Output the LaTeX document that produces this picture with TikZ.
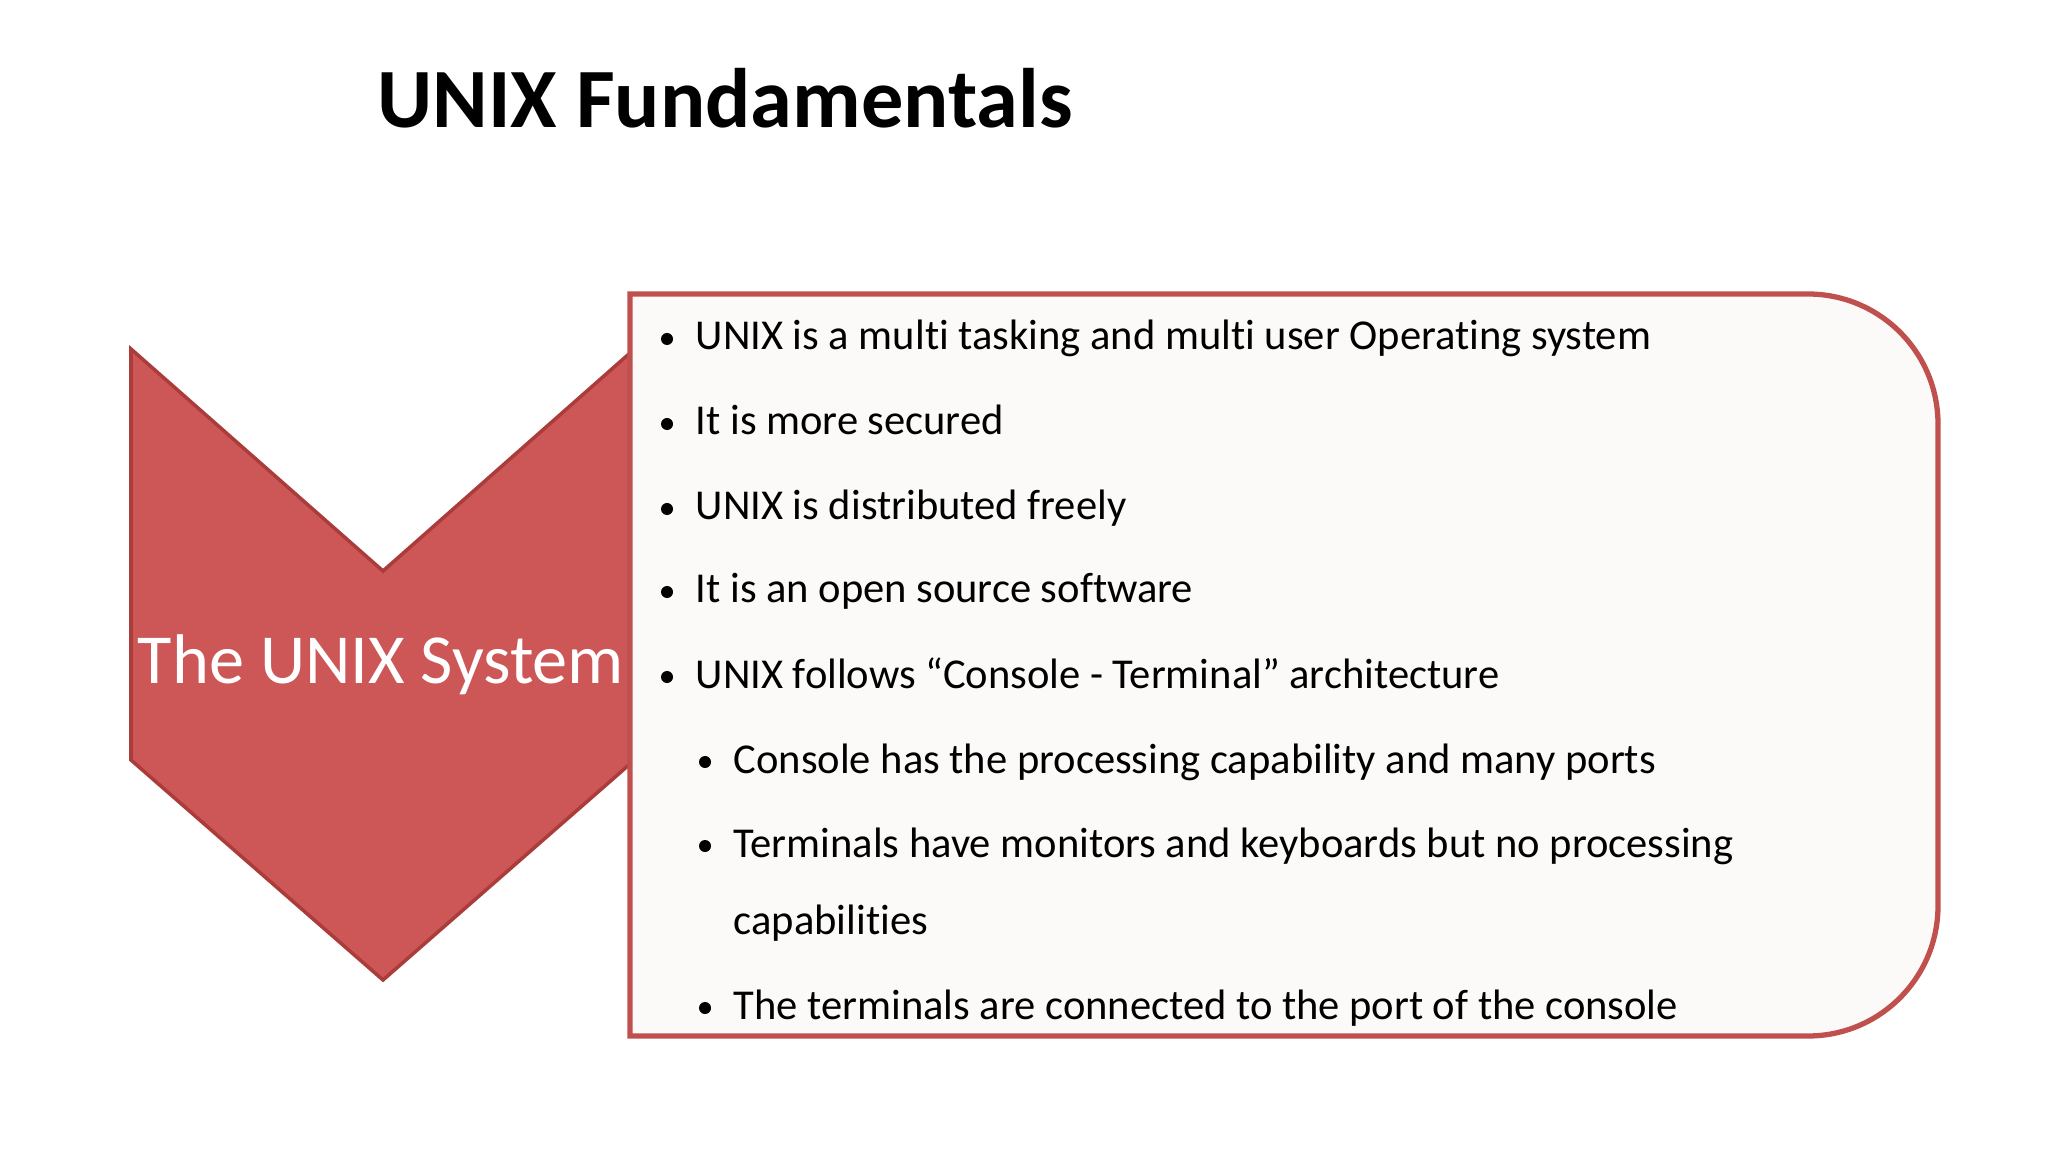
\documentclass[tikz,border=0pt]{standalone}
\usepackage{fontspec}
\setmainfont{Carlito}[Ligatures=NoCommon]
\begin{document}
\begin{tikzpicture}[x=0.01cm,y=-0.01cm,
  item/.style={anchor=base west,inner sep=0pt,font=\fontsize{12.1pt}{14pt}\selectfont},
  dot/.style={circle,fill=black,inner sep=0pt,minimum size=0.12cm}]
\useasboundingbox (0,0) rectangle (2048,1152);
\fill[white] (0,0) rectangle (2048,1152);
\node[font=\fontsize{24pt}{30pt}\selectfont\bfseries,anchor=base] (title) at (725,128) {UNIX Fundamentals};
\draw[draw={rgb,255:red,170;green,60;blue,60},fill={rgb,255:red,205;green,86;blue,86},line width=1pt]
  (131,349) -- (383,571) -- (630,353) -- (630,764) -- (383,980) -- (131,760) -- cycle;
\node[white,font=\fontsize{20pt}{24pt}\selectfont] (sys) at (381,665) {The UNIX System};
\draw[draw={rgb,255:red,192;green,80;blue,77},fill={rgb,255:red,251;green,250;blue,249},line width=1.5pt]
  (630,294) [rounded corners=1.3cm] -- (1938,294) -- (1938,1036) [sharp corners] -- (630,1036) -- cycle;
\foreach \y/\t [count=\i] in {350/UNIX is a multi tasking and multi user Operating system,
  435/It is more secured, 520/UNIX is distributed freely, 603/It is an open source software,
  688/{UNIX follows “Console - Terminal” architecture}}{
  \node[dot] (b\i) at (667,\y-11) {};
  \node[item] (t\i) at (695,\y) {\t};}
\foreach \y/\t [count=\i] in {773/Console has the processing capability and many ports,
  857/Terminals have monitors and keyboards but no processing,
  1019/The terminals are connected to the port of the console}{
  \node[dot] (s\i) at (705,\y-11) {};
  \node[item] (u\i) at (733,\y) {\t};}
\node[item] (u2b) at (733,934) {capabilities};
\end{tikzpicture}
\end{document}
